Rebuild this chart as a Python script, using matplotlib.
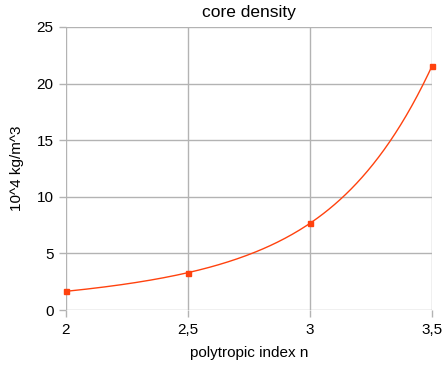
import numpy as np
import matplotlib
matplotlib.use('Agg')
import matplotlib.pyplot as plt

# data
n_index = [2.0, 2.5, 3.0, 3.5]
density = [1.65, 3.30, 7.66, 21.55]
x_ticks = [2, 2.5, 3, 3.5]
x_labels = ['2', '2,5', '3', '3,5']
y_ticks = [0, 5, 10, 15, 20, 25]

plt.rcParams['font.family'] = ['Liberation Sans', 'DejaVu Sans']

# natural cubic spline through the points
def natural_spline(x, y, num=200):
    x = np.asarray(x, float)
    y = np.asarray(y, float)
    n = len(x)
    h = np.diff(x)
    A = np.zeros((n, n))
    b = np.zeros(n)
    A[0, 0] = 1
    A[-1, -1] = 1
    for i in range(1, n - 1):
        A[i, i - 1] = h[i - 1]
        A[i, i] = 2 * (h[i - 1] + h[i])
        A[i, i + 1] = h[i]
        b[i] = 3 * ((y[i + 1] - y[i]) / h[i] - (y[i] - y[i - 1]) / h[i - 1])
    c = np.linalg.solve(A, b)
    xs = np.linspace(x[0], x[-1], num)
    ys = np.zeros_like(xs)
    for k, xv in enumerate(xs):
        i = min(np.searchsorted(x, xv, side='right') - 1, n - 2)
        dx = xv - x[i]
        bi = (y[i + 1] - y[i]) / h[i] - h[i] * (2 * c[i] + c[i + 1]) / 3
        di = (c[i + 1] - c[i]) / (3 * h[i])
        ys[k] = y[i] + bi * dx + c[i] * dx ** 2 + di * dx ** 3
    return xs, ys

fig = plt.figure(figsize=(4.46, 3.68), dpi=100)
ax = fig.add_axes([66 / 446, 1 - 310 / 368, 366 / 446, 283 / 368])

# smooth in log space so the curve stays convex like the original
xs, ys = natural_spline(n_index, np.log(density))
ax.plot(xs, np.exp(ys), color='#ff420e', linewidth=1)
ax.plot(n_index, density, 's', color='#ff420e', markersize=3.6, clip_on=False)

ax.set_xlim(2, 3.5)
ax.set_ylim(0, 25)
ax.set_xticks(x_ticks)
ax.set_xticklabels(x_labels)
ax.set_yticks(y_ticks)
ax.grid(True, color='#b3b3b3', linewidth=1)
ax.set_axisbelow(True)
for s in ax.spines.values():
    s.set_visible(False)
ax.tick_params(axis='both', color='#b3b3b3', length=5, width=1, labelsize=11, pad=4)

ax.set_title('core density', fontsize=12.5, pad=7)
ax.set_xlabel('polytropic index n', fontsize=11, labelpad=7)
ax.set_ylabel('10^4 kg/m^3', fontsize=11, labelpad=9)

plt.savefig('out.png', dpi=100)
